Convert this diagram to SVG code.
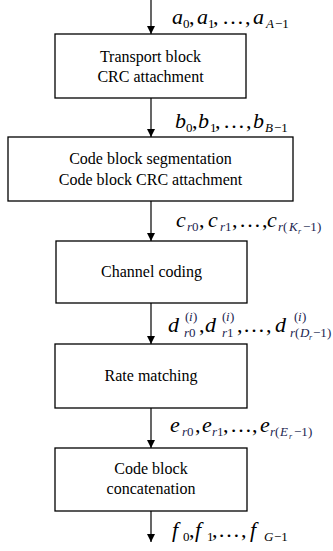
<svg xmlns="http://www.w3.org/2000/svg" width="333" height="551" viewBox="0 0 333 551" font-family="Liberation Serif, Times New Roman, serif">
<defs>
<marker id="ah" markerUnits="userSpaceOnUse" markerWidth="8" markerHeight="9" refX="8" refY="4" orient="auto" viewBox="0 0 8 8"><path d="M0,0 L8,4 L0,8 Z" fill="#000"/></marker>
</defs>
<g id="connectors" stroke="#000" stroke-width="1.2" fill="none">
<line x1="151" y1="0" x2="151" y2="34" marker-end="url(#ah)"/>
<line x1="151" y1="98" x2="151" y2="137" marker-end="url(#ah)"/>
<line x1="151" y1="201" x2="151" y2="241" marker-end="url(#ah)"/>
<line x1="151" y1="303" x2="151" y2="344" marker-end="url(#ah)"/>
<line x1="151" y1="408" x2="151" y2="448" marker-end="url(#ah)"/>
<line x1="151" y1="511" x2="151" y2="542" marker-end="url(#ah)"/>
</g>
<g id="n1"><rect fill="#fff" stroke="#000" stroke-width="1.3" x="55" y="34" width="191" height="64"/>
<text font-family="Times New Roman, Liberation Serif, serif" font-size="16" text-anchor="middle" x="150.5" y="62">Transport block</text><text font-family="Times New Roman, Liberation Serif, serif" font-size="16" text-anchor="middle" x="150.5" y="82">CRC attachment</text></g>
<g id="n2"><rect fill="#fff" stroke="#000" stroke-width="1.3" x="8" y="137" width="285" height="64"/>
<text font-family="Times New Roman, Liberation Serif, serif" font-size="16" text-anchor="middle" x="150.5" y="164">Code block segmentation</text><text font-family="Times New Roman, Liberation Serif, serif" font-size="16" text-anchor="middle" x="150.5" y="185">Code block CRC attachment</text></g>
<g id="n3"><rect fill="#fff" stroke="#000" stroke-width="1.3" x="56" y="241" width="191" height="62"/>
<text font-family="Times New Roman, Liberation Serif, serif" font-size="16" text-anchor="middle" x="151.5" y="277">Channel coding</text></g>
<g id="n4"><rect fill="#fff" stroke="#000" stroke-width="1.3" x="55" y="344" width="192" height="64"/>
<text font-family="Times New Roman, Liberation Serif, serif" font-size="16" text-anchor="middle" x="151" y="381">Rate matching</text></g>
<g id="n5"><rect fill="#fff" stroke="#000" stroke-width="1.3" x="55" y="448" width="192" height="63"/>
<text font-family="Times New Roman, Liberation Serif, serif" font-size="16" text-anchor="middle" x="151" y="474">Code block</text><text font-family="Times New Roman, Liberation Serif, serif" font-size="16" text-anchor="middle" x="151" y="494">concatenation</text></g>
<g id="labels">
<text id="la" font-family="Times New Roman, Liberation Serif, serif" font-size="22"><tspan font-style="italic" x="172" y="24">a</tspan><tspan font-size="13" x="183" y="28">0</tspan><tspan x="189" y="24">,</tspan><tspan font-style="italic" x="197" y="24">a</tspan><tspan font-size="13" x="208" y="28">1</tspan><tspan x="213" y="24">,</tspan><tspan x="222" y="24">…</tspan><tspan x="245" y="24">,</tspan><tspan font-style="italic" x="253" y="24">a</tspan><tspan font-size="13" font-style="italic" x="266" y="28">A</tspan><tspan font-size="13" x="275" y="28">−1</tspan></text>
<text id="lb" font-family="Times New Roman, Liberation Serif, serif" font-size="22"><tspan font-style="italic" x="175" y="128">b</tspan><tspan font-size="13" x="186" y="132">0</tspan><tspan x="192" y="128">,</tspan><tspan font-style="italic" x="198" y="128">b</tspan><tspan font-size="13" x="210" y="132">1</tspan><tspan x="215" y="128">,</tspan><tspan x="223" y="128">…</tspan><tspan x="246" y="128">,</tspan><tspan font-style="italic" x="253" y="128">b</tspan><tspan font-size="13" font-style="italic" x="265" y="132">B</tspan><tspan font-size="13" x="274" y="132">−1</tspan></text>
<text id="lc" font-family="Times New Roman, Liberation Serif, serif" font-size="22"><tspan font-style="italic" x="176" y="227">c</tspan><tspan font-size="13" font-style="italic" fill="#1c2550" x="187" y="231">r</tspan><tspan font-size="13" fill="#1c2550" x="192" y="231">0</tspan><tspan x="199" y="227">,</tspan><tspan font-style="italic" x="208" y="227">c</tspan><tspan font-size="13" font-style="italic" fill="#1c2550" x="220" y="231">r</tspan><tspan font-size="13" fill="#1c2550" x="225" y="231">1</tspan><tspan x="232" y="227">,</tspan><tspan x="239" y="227">…</tspan><tspan x="262" y="227">,</tspan><tspan font-style="italic" x="267" y="227">c</tspan><tspan font-size="13" font-style="italic" fill="#1c2550" x="278" y="231">r</tspan><tspan font-size="13" fill="#1c2550" x="283" y="231">(</tspan><tspan font-size="13" font-style="italic" fill="#1c2550" x="289" y="231">K</tspan><tspan font-size="8" font-style="italic" fill="#1c2550" x="298" y="234">r</tspan><tspan font-size="13" fill="#1c2550" x="303" y="231">−1</tspan><tspan font-size="13" fill="#1c2550" x="317" y="231">)</tspan></text>
<text id="ld" font-family="Times New Roman, Liberation Serif, serif" font-size="22"><tspan font-style="italic" x="168" y="332">d</tspan><tspan font-size="13" fill="#1c2550" x="185" y="321">(</tspan><tspan font-size="13" font-style="italic" fill="#1c2550" x="189" y="321">i</tspan><tspan font-size="13" fill="#1c2550" x="193" y="321">)</tspan><tspan font-size="13" font-style="italic" fill="#1c2550" x="184" y="337">r</tspan><tspan font-size="13" fill="#1c2550" x="189" y="337">0</tspan><tspan x="199" y="332">,</tspan><tspan font-style="italic" x="205" y="332">d</tspan><tspan font-size="13" fill="#1c2550" x="222" y="321">(</tspan><tspan font-size="13" font-style="italic" fill="#1c2550" x="226" y="321">i</tspan><tspan font-size="13" fill="#1c2550" x="230" y="321">)</tspan><tspan font-size="13" font-style="italic" fill="#1c2550" x="222" y="337">r</tspan><tspan font-size="13" fill="#1c2550" x="227" y="337">1</tspan><tspan x="237" y="332">,</tspan><tspan x="243" y="332">…</tspan><tspan x="266" y="332">,</tspan><tspan font-style="italic" x="275" y="332">d</tspan><tspan font-size="13" fill="#1c2550" x="294" y="321">(</tspan><tspan font-size="13" font-style="italic" fill="#1c2550" x="298" y="321">i</tspan><tspan font-size="13" fill="#1c2550" x="302" y="321">)</tspan><tspan font-size="13" font-style="italic" fill="#1c2550" x="290" y="337">r</tspan><tspan font-size="13" fill="#1c2550" x="295" y="337">(</tspan><tspan font-size="13" font-style="italic" fill="#1c2550" x="300" y="337">D</tspan><tspan font-size="8" font-style="italic" fill="#1c2550" x="309" y="340">r</tspan><tspan font-size="13" fill="#1c2550" x="313" y="337">−1</tspan><tspan font-size="13" fill="#1c2550" x="327" y="337">)</tspan></text>
<text id="le" font-family="Times New Roman, Liberation Serif, serif" font-size="22"><tspan font-style="italic" x="170" y="432">e</tspan><tspan font-size="13" font-style="italic" fill="#1c2550" x="182" y="436">r</tspan><tspan font-size="13" fill="#1c2550" x="187" y="436">0</tspan><tspan x="195" y="432">,</tspan><tspan font-style="italic" x="202" y="432">e</tspan><tspan font-size="13" font-style="italic" fill="#1c2550" x="212" y="436">r</tspan><tspan font-size="13" fill="#1c2550" x="217" y="436">1</tspan><tspan x="223" y="432">,</tspan><tspan x="230" y="432">…</tspan><tspan x="252" y="432">,</tspan><tspan font-style="italic" x="260" y="432">e</tspan><tspan font-size="13" font-style="italic" fill="#1c2550" x="270" y="436">r</tspan><tspan font-size="13" fill="#1c2550" x="275" y="436">(</tspan><tspan font-size="13" font-style="italic" fill="#1c2550" x="280" y="436">E</tspan><tspan font-size="8" font-style="italic" fill="#1c2550" x="289" y="439">r</tspan><tspan font-size="13" fill="#1c2550" x="294" y="436">−1</tspan><tspan font-size="13" fill="#1c2550" x="308" y="436">)</tspan></text>
<text id="lf" font-family="Times New Roman, Liberation Serif, serif" font-size="22"><tspan font-style="italic" x="172" y="537">f</tspan><tspan font-size="13" x="183" y="541">0</tspan><tspan x="189" y="537">,</tspan><tspan font-style="italic" x="195" y="537">f</tspan><tspan font-size="13" x="207" y="541">1</tspan><tspan x="212" y="537">,</tspan><tspan x="218" y="537">…</tspan><tspan x="241" y="537">,</tspan><tspan font-style="italic" x="250" y="537">f</tspan><tspan font-size="13" font-style="italic" x="264" y="541">G</tspan><tspan font-size="13" x="274" y="541">−1</tspan></text>
</g>
</svg>
